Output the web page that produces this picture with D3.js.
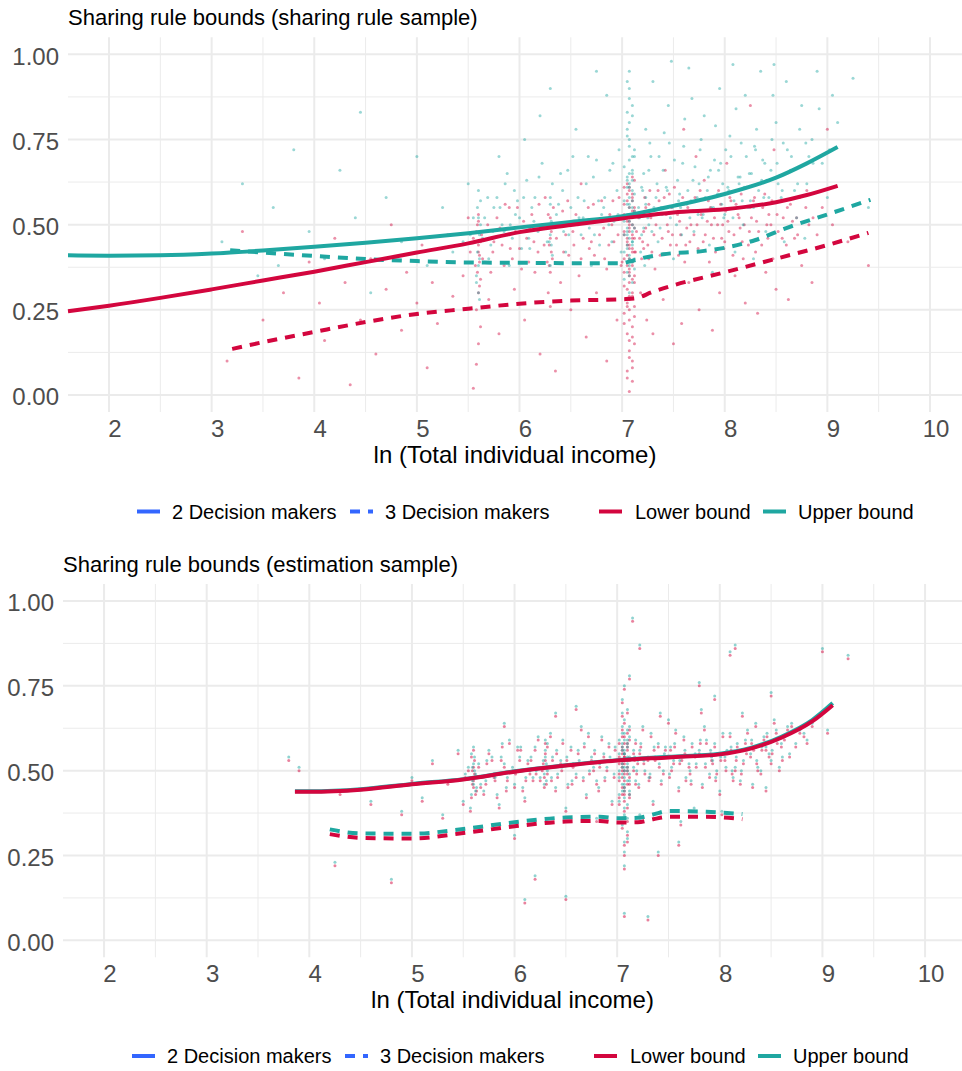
<!DOCTYPE html>
<html>
<head>
<meta charset="utf-8">
<script src="https://cdn.jsdelivr.net/npm/d3@7"></script>
<style>
body{margin:0;background:#fff;}
svg{display:block;font-family:"Liberation Sans",Arial,sans-serif;}
</style>
</head>
<body>
<svg width="962" height="1071"></svg>
<script>
// ---- data ----
const xTicks = [2, 3, 4, 5, 6, 7, 8, 9, 10];
const yTicks = [0, 0.25, 0.5, 0.75, 1];
const typeLabels = ["2 Decision makers", "3 Decision makers"];
const boundLabels = ["Lower bound", "Upper bound"];

// panel 1 (sharing rule sample) smooth fits [ln income, share]
const s1Lower2 = [[1.6,0.246],[2,0.262],[2.5,0.285],[3,0.31],[3.5,0.336],[4,0.362],[4.5,0.39],[5,0.418],[5.5,0.445],[6,0.478],[6.5,0.499],[7,0.518],[7.5,0.536],[8,0.545],[8.5,0.566],[8.8,0.587],[9.1,0.614]];
const s1Upper2 = [[1.6,0.410],[2,0.409],[2.5,0.410],[3,0.415],[3.5,0.424],[4,0.435],[4.5,0.447],[5,0.46],[5.5,0.475],[6,0.492],[6.5,0.508],[7,0.525],[7.5,0.555],[8,0.59],[8.5,0.638],[8.8,0.68],[9.1,0.728]];
const s1Lower3 = [[3.2,0.135],[3.5,0.155],[4,0.185],[4.5,0.214],[5,0.238],[5.5,0.253],[6,0.268],[6.5,0.277],[7,0.281],[7.12,0.283],[7.3,0.303],[7.5,0.322],[8,0.36],[8.5,0.4],[9,0.44],[9.4,0.476]];
const s1Upper3 = [[3.18,0.425],[3.5,0.418],[4,0.408],[4.5,0.399],[5,0.393],[5.5,0.389],[6,0.388],[6.5,0.387],[7,0.387],[7.05,0.39],[7.2,0.402],[7.4,0.413],[7.8,0.423],[8,0.432],[8.3,0.455],[8.6,0.49],[9,0.53],[9.42,0.573]];

// panel 2 (estimation sample) smooth fits
const s2Lower2 = [[3.86,0.438],[4,0.438],[4.5,0.444],[5,0.46],[5.5,0.474],[6,0.497],[6.5,0.515],[7,0.53],[7.5,0.539],[8,0.548],[8.3,0.565],[8.6,0.597],[8.9,0.645],[9.1,0.693]];
const s2Upper2 = [[3.86,0.439],[4,0.439],[4.5,0.445],[5,0.461],[5.5,0.475],[6,0.498],[6.5,0.516],[7,0.531],[7.5,0.541],[8,0.55],[8.3,0.567],[8.6,0.6],[8.9,0.649],[9.1,0.699]];
const s2Lower3 = [[4.2,0.313],[4.5,0.302],[5,0.30],[5.5,0.316],[6,0.336],[6.5,0.35],[6.83,0.352],[7,0.347],[7.2,0.348],[7.35,0.357],[7.5,0.364],[7.87,0.364],[8.22,0.357]];
const s2Upper3 = [[4.2,0.327],[4.5,0.315],[5,0.314],[5.5,0.328],[6,0.348],[6.5,0.362],[6.83,0.364],[7,0.36],[7.2,0.361],[7.35,0.371],[7.5,0.381],[7.87,0.379],[8.22,0.372]];

// panel 1 scatter: lower bound points
const s1LowerPts = [[3.15,0.10],[3.3,0.48],[3.5,0.22],[3.7,0.30],[3.85,0.05],[3.95,0.39],[4.05,0.27],[4.1,0.16],[4.2,0.46],[4.3,0.33],[4.35,0.03],[4.45,0.22],[4.55,0.40],[4.6,0.12],[4.7,0.31],[4.75,0.50],[4.85,0.19],[4.9,0.36],[5.0,0.27],[5.05,0.44],[5.1,0.08],[5.15,0.33],[5.2,0.21],[5.3,0.47],[5.35,0.29],
[5.58,0.25],[5.6,0.30],[5.62,0.34],[5.57,0.38],[5.61,0.41],[5.6,0.44],[5.63,0.47],[5.59,0.50],[5.6,0.53],[5.62,0.20],[5.6,0.15],[5.58,0.09],
[6.28,0.30],[6.3,0.36],[6.32,0.40],[6.29,0.44],[6.31,0.48],[6.3,0.52],[6.33,0.55],[6.3,0.26],
[5.45,0.35],[5.5,0.52],[5.7,0.28],[5.75,0.45],[5.8,0.18],[5.85,0.38],[5.9,0.55],[5.95,0.31],[6.0,0.43],[6.05,0.22],[6.1,0.49],[6.15,0.36],[6.2,0.12],[6.25,0.58],[6.4,0.33],[6.45,0.47],[6.5,0.25],[6.55,0.53],[6.6,0.40],[6.65,0.17],[6.7,0.45],[6.75,0.30],[6.8,0.57],[6.85,0.37],[6.9,0.50],[6.95,0.22],[6.6,0.62],[6.35,0.07],[5.55,0.02],[6.85,0.10],
[7.07,0.01],[7.10,0.04],[7.05,0.07],[7.10,0.10],[7.07,0.13],[7.12,0.15],[7.05,0.18],[7.10,0.20],[7.07,0.22],[7.02,0.24],[7.12,0.26],[7.07,0.28],[7.10,0.30],[7.05,0.31],[7.07,0.33],[7.12,0.35],[7.02,0.36],[7.10,0.38],[7.07,0.40],[7.05,0.41],[7.10,0.43],[7.07,0.44],[7.12,0.46],[7.02,0.47],[7.07,0.49],[7.10,0.50],[7.05,0.52],[7.07,0.53],[7.12,0.55],[7.02,0.56],[7.10,0.58],[7.07,0.60],[7.05,0.62],[7.10,0.64],[7.07,0.29],[7.10,0.34],[7.05,0.45],[7.07,0.51],[7.10,0.57],[7.13,0.42],[7.00,0.39],[7.14,0.48],
[7.18,0.30],[7.2,0.45],[7.24,0.22],[7.28,0.52],[7.32,0.37],[7.35,0.60],[7.4,0.28],[7.45,0.48],[7.5,0.15],[7.55,0.41],[7.6,0.56],[7.65,0.33],[7.7,0.47],[7.75,0.25],[7.8,0.63],[7.85,0.39],[7.9,0.52],[7.95,0.30],[8.0,0.45],[8.05,0.58],[8.1,0.35],[8.15,0.49],[8.2,0.27],[8.25,0.55],[8.3,0.42],[8.35,0.62],[8.4,0.36],[8.45,0.50],[8.5,0.31],[8.55,0.57],[8.6,0.44],[8.7,0.52],[8.75,0.38],[8.8,0.60],[8.9,0.47],[8.95,0.55],[9.05,0.50],[7.22,0.58],[7.3,0.18],[7.42,0.66],[7.58,0.21],[7.72,0.70],[7.88,0.19],[8.02,0.68],[8.18,0.40],[8.32,0.24],[8.48,0.72],[8.62,0.28],[8.85,0.33],[7.26,0.40],[7.48,0.55],[7.62,0.44],[7.98,0.50],[8.12,0.60],[8.42,0.46],[9.2,0.45],[9.4,0.38],[8.25,0.85],[7.6,0.78],[9.0,0.78]];
const s1LowerCore = [[5.52,0.42],[5.66,0.48],[5.72,0.36],[5.78,0.52],[5.83,0.44],[5.88,0.47],[5.93,0.40],[5.98,0.55],[6.02,0.37],[6.07,0.46],[6.12,0.53],[6.18,0.42],[6.22,0.50],[6.27,0.39],[6.36,0.46],[6.42,0.54],[6.48,0.41],[6.52,0.48],[6.58,0.35],[6.63,0.51],[6.68,0.43],[6.72,0.56],[6.78,0.47],[6.83,0.40],[6.88,0.53],[6.92,0.45],[6.97,0.58],[6.99,0.38],
[7.16,0.52],[7.19,0.40],[7.21,0.48],[7.23,0.55],[7.25,0.44],[7.27,0.60],[7.31,0.47],[7.34,0.53],[7.37,0.41],[7.41,0.58],[7.44,0.50],[7.47,0.44],[7.51,0.61],[7.54,0.53],[7.57,0.47],[7.61,0.39],[7.64,0.55],[7.67,0.50],[7.71,0.58],[7.74,0.43],[7.77,0.53],[7.81,0.47],[7.84,0.57],[7.87,0.50],[7.91,0.42],[7.94,0.60],[7.97,0.46],[8.01,0.54],[8.04,0.48],[8.08,0.41],[8.11,0.56],[8.14,0.52],[8.17,0.45],[8.21,0.61],[8.24,0.48],[8.28,0.57],[8.31,0.51],[8.36,0.44],[8.39,0.59],[8.43,0.53],[8.47,0.40],[8.52,0.48],[8.57,0.52],[8.64,0.56],[8.68,0.46],[8.73,0.58],[8.82,0.50],
[7.07,0.37],[7.10,0.42],[7.05,0.46],[7.07,0.48],[7.10,0.54],[7.05,0.59],[7.07,0.61],[7.10,0.47],[7.07,0.16],[7.10,0.08],[7.05,0.26],[7.07,0.35]];
const s1LowerDense = [[7.02,0.21],[7.12,0.23],[7.07,0.25],[7.05,0.27],[7.10,0.29],[7.02,0.32],[7.12,0.33],[7.07,0.36],[7.05,0.38],[7.10,0.39],[7.02,0.40],[7.12,0.42],[7.07,0.43],[7.05,0.44],[7.10,0.46],[7.02,0.48],[7.12,0.49],[7.07,0.50],[7.05,0.51],[7.10,0.52],[7.02,0.53],[7.12,0.54],[7.07,0.55],[7.05,0.57],[7.10,0.59],[7.02,0.61],[7.12,0.63],[7.07,0.11],[7.05,0.05],[7.10,0.17],
[5.59,0.36],[5.61,0.39],[5.6,0.42],[5.62,0.45],[5.58,0.48],[5.6,0.51],[5.61,0.32],
[6.29,0.38],[6.31,0.42],[6.3,0.46],[6.32,0.50],[6.28,0.53],
[5.55,0.46],[5.64,0.40],[5.69,0.50],[5.74,0.42],[5.81,0.49],[5.86,0.56],[5.91,0.43],[5.96,0.48],[6.04,0.51],[6.09,0.39],[6.14,0.45],[6.19,0.56],[6.24,0.44],[6.38,0.50],[6.43,0.42],[6.47,0.57],[6.53,0.44],[6.57,0.50],[6.62,0.46],[6.67,0.55],[6.73,0.41],[6.77,0.51],[6.82,0.49],[6.87,0.44],[6.91,0.57],[6.96,0.47],
[7.17,0.46],[7.19,0.53],[7.21,0.43],[7.23,0.49],[7.26,0.56],[7.29,0.42],[7.33,0.50],[7.36,0.57],[7.39,0.46],[7.43,0.53],[7.46,0.59],[7.49,0.47],[7.53,0.44],[7.56,0.51],[7.59,0.58],[7.63,0.49],[7.66,0.45],[7.69,0.54],[7.73,0.50],[7.76,0.60],[7.79,0.45],[7.83,0.51],[7.86,0.55],[7.89,0.46],[7.93,0.50],[7.96,0.56],[7.99,0.43],[8.03,0.51],[8.06,0.57],[8.09,0.47],[8.13,0.53],[8.16,0.59],[8.19,0.50],[8.23,0.44],[8.26,0.52],[8.29,0.58],[8.33,0.48],[8.37,0.55],[8.41,0.50],[8.46,0.57],[8.51,0.53],[8.56,0.46],[8.61,0.55],[8.66,0.51],[8.71,0.47],[8.79,0.55],[8.86,0.52]];

// panel 1 scatter: upper bound points
const s1UpperPts = [[3.1,0.45],[3.3,0.62],[3.45,0.35],[3.6,0.55],[3.8,0.72],[3.95,0.48],[4.1,0.40],[4.25,0.66],[4.4,0.52],[4.55,0.30],[4.7,0.58],[4.85,0.45],[5.0,0.70],[5.1,0.38],[5.25,0.55],[5.35,0.42],[4.45,0.83],[3.65,0.38],
[5.6,0.30],[5.58,0.35],[5.61,0.40],[5.6,0.45],[5.62,0.50],[5.59,0.55],[5.6,0.60],[5.61,0.28],[5.6,0.38],
[6.3,0.38],[6.31,0.44],[6.29,0.50],[6.3,0.56],[6.32,0.62],[6.3,0.47],
[5.45,0.45],[5.5,0.62],[5.7,0.40],[5.75,0.55],[5.8,0.70],[5.85,0.48],[5.9,0.38],[5.95,0.60],[6.0,0.52],[6.05,0.75],[6.1,0.43],[6.15,0.58],[6.2,0.82],[6.25,0.50],[6.4,0.65],[6.45,0.42],[6.5,0.55],[6.55,0.78],[6.6,0.47],[6.65,0.62],[6.7,0.38],[6.75,0.69],[6.8,0.53],[6.85,0.88],[6.9,0.45],[6.95,0.60],[6.3,0.90],[6.75,0.95],
[7.07,0.30],[7.10,0.33],[7.05,0.36],[7.07,0.38],[7.12,0.40],[7.02,0.42],[7.10,0.44],[7.07,0.46],[7.05,0.48],[7.10,0.50],[7.07,0.52],[7.12,0.54],[7.05,0.56],[7.07,0.58],[7.10,0.60],[7.07,0.62],[7.05,0.64],[7.10,0.66],[7.07,0.69],[7.12,0.72],[7.05,0.76],[7.07,0.80],[7.10,0.85],[7.07,0.90],[7.07,0.95],[7.10,0.39],[7.05,0.47],[7.07,0.55],[7.10,0.63],[7.02,0.51],
[7.18,0.42],[7.2,0.60],[7.23,0.78],[7.26,0.50],[7.3,0.92],[7.35,0.45],[7.4,0.66],[7.45,0.85],[7.5,0.40],[7.55,0.57],[7.6,0.73],[7.65,0.96],[7.7,0.48],[7.75,0.62],[7.8,0.82],[7.85,0.44],[7.9,0.69],[7.95,0.90],[8.0,0.53],[8.05,0.76],[8.1,0.42],[8.15,0.64],[8.2,0.88],[8.25,0.57],[8.3,0.72],[8.35,0.95],[8.4,0.48],[8.45,0.66],[8.5,0.80],[8.55,0.58],[8.6,0.92],[8.65,0.70],[8.7,0.52],[8.75,0.85],[8.8,0.62],[8.85,0.75],[8.9,0.95],[8.95,0.68],[9.0,0.58],[9.05,0.88],[9.1,0.80],[9.25,0.93],[9.4,0.55],[7.22,0.38],[7.38,0.55],[7.58,0.47],[7.78,0.52],[7.98,0.62],[8.18,0.50],[8.38,0.58],[8.58,0.45],[7.28,0.70],[7.68,0.87],[8.08,0.97],[8.48,0.97],[7.88,0.36],[8.28,0.40],[7.48,0.98],[8.78,0.46]];
const s1UpperCore = [[5.52,0.47],[5.66,0.52],[5.72,0.44],[5.78,0.58],[5.83,0.50],[5.88,0.65],[5.93,0.46],[5.98,0.57],[6.02,0.43],[6.07,0.63],[6.12,0.55],[6.18,0.48],[6.22,0.68],[6.27,0.45],[6.36,0.53],[6.42,0.60],[6.48,0.47],[6.52,0.70],[6.58,0.52],[6.63,0.57],[6.68,0.49],[6.72,0.64],[6.78,0.44],[6.83,0.58],[6.88,0.66],[6.92,0.51],[6.97,0.72],[6.99,0.42],
[7.16,0.55],[7.19,0.47],[7.21,0.65],[7.23,0.58],[7.25,0.52],[7.27,0.74],[7.31,0.55],[7.34,0.62],[7.37,0.49],[7.41,0.77],[7.44,0.60],[7.47,0.52],[7.51,0.69],[7.54,0.63],[7.57,0.55],[7.61,0.81],[7.64,0.60],[7.67,0.57],[7.71,0.67],[7.74,0.53],[7.77,0.75],[7.81,0.58],[7.84,0.64],[7.87,0.55],[7.91,0.79],[7.94,0.66],[7.97,0.56],[8.01,0.72],[8.04,0.60],[8.08,0.52],[8.11,0.84],[8.14,0.62],[8.17,0.57],[8.21,0.70],[8.24,0.65],[8.28,0.55],[8.31,0.78],[8.36,0.63],[8.39,0.68],[8.43,0.58],[8.47,0.88],[8.52,0.62],[8.57,0.74],[8.64,0.66],[8.68,0.60],[8.73,0.78],[8.82,0.70],[8.92,0.84],[9.02,0.72],
[7.07,0.41],[7.10,0.45],[7.05,0.49],[7.07,0.53],[7.10,0.57],[7.05,0.61],[7.07,0.65],[7.10,0.70],[7.07,0.75],[7.05,0.83],[7.07,0.35]];
const s1UpperDense = [[7.02,0.34],[7.12,0.37],[7.07,0.40],[7.05,0.43],[7.10,0.45],[7.02,0.47],[7.12,0.49],[7.07,0.51],[7.05,0.53],[7.10,0.55],[7.02,0.57],[7.12,0.59],[7.07,0.61],[7.05,0.63],[7.10,0.65],[7.02,0.67],[7.12,0.70],[7.07,0.73],[7.05,0.78],[7.10,0.82],[7.07,0.87],[7.05,0.92],[7.10,0.48],[7.07,0.56],[7.05,0.44],
[5.59,0.42],[5.61,0.47],[5.6,0.52],[5.62,0.57],[5.58,0.33],
[6.29,0.45],[6.31,0.51],[6.3,0.58],[6.32,0.41],
[5.55,0.52],[5.64,0.46],[5.69,0.58],[5.74,0.48],[5.81,0.55],[5.86,0.62],[5.91,0.50],[5.96,0.53],[6.04,0.58],[6.09,0.46],[6.14,0.51],[6.19,0.64],[6.24,0.49],[6.38,0.56],[6.43,0.48],[6.47,0.66],[6.53,0.50],[6.57,0.58],[6.62,0.52],[6.67,0.70],[6.73,0.47],[6.77,0.57],[6.82,0.55],[6.87,0.50],[6.91,0.68],[6.96,0.53],
[7.17,0.52],[7.19,0.61],[7.21,0.49],[7.23,0.56],[7.26,0.66],[7.29,0.48],[7.33,0.58],[7.36,0.70],[7.39,0.53],[7.43,0.61],[7.46,0.74],[7.49,0.55],[7.53,0.50],[7.56,0.59],[7.59,0.68],[7.63,0.56],[7.66,0.52],[7.69,0.63],[7.73,0.58],[7.76,0.72],[7.79,0.53],[7.83,0.60],[7.86,0.66],[7.89,0.55],[7.93,0.59],[7.96,0.68],[7.99,0.52],[8.03,0.61],[8.06,0.70],[8.09,0.57],[8.13,0.64],[8.16,0.74],[8.19,0.61],[8.23,0.55],[8.26,0.65],[8.29,0.73],[8.33,0.60],[8.37,0.69],[8.41,0.63],[8.46,0.75],[8.51,0.68],[8.56,0.60],[8.61,0.72],[8.66,0.66],[8.71,0.62],[8.79,0.74],[8.86,0.68]];

// panel 2 scatter: [ln income, lower bound, upper bound]
const s2Pts = [[3.8,0.53,0.54],[3.9,0.50,0.51],[4.25,0.22,0.23],[4.3,0.43,0.44],[4.6,0.40,0.41],[4.8,0.17,0.18],[4.9,0.37,0.38],[5.0,0.47,0.48],[5.1,0.41,0.42],[5.2,0.52,0.53],[5.3,0.36,0.37],[5.35,0.46,0.47],[5.45,0.55,0.56],[5.5,0.40,0.41],
[5.58,0.42,0.43],[5.6,0.45,0.46],[5.62,0.48,0.49],[5.59,0.50,0.51],[5.61,0.53,0.54],[5.6,0.47,0.48],[5.63,0.44,0.45],[5.57,0.38,0.39],[5.6,0.56,0.57],
[5.7,0.43,0.44],[5.75,0.55,0.56],[5.8,0.48,0.49],[5.85,0.39,0.40],[5.9,0.51,0.52],[5.95,0.58,0.59],[6.0,0.45,0.46],[6.05,0.53,0.54],[6.1,0.41,0.42],[6.15,0.49,0.50],[6.2,0.56,0.57],[6.25,0.47,0.48],[6.28,0.52,0.53],[6.3,0.55,0.56],[6.32,0.49,0.50],[6.3,0.58,0.59],[6.29,0.45,0.46],[6.35,0.60,0.61],[6.4,0.44,0.45],[6.45,0.52,0.53],[6.5,0.38,0.39],[6.55,0.56,0.57],[6.6,0.48,0.49],[6.65,0.62,0.63],[6.7,0.42,0.43],[6.75,0.53,0.54],[6.8,0.46,0.47],[6.85,0.59,0.60],[6.9,0.50,0.51],[6.95,0.40,0.41],[6.5,0.12,0.13],[6.2,0.18,0.19],[6.6,0.68,0.69],[6.8,0.35,0.36],[6.0,0.30,0.31],[6.4,0.66,0.67],[5.9,0.63,0.64],
[7.07,0.25,0.26],[7.10,0.29,0.30],[7.05,0.33,0.34],[7.07,0.36,0.37],[7.10,0.39,0.40],[7.02,0.42,0.43],[7.07,0.44,0.45],[7.12,0.46,0.47],[7.05,0.48,0.49],[7.10,0.50,0.51],[7.07,0.52,0.53],[7.02,0.54,0.55],[7.10,0.56,0.57],[7.07,0.58,0.59],[7.05,0.60,0.61],[7.12,0.62,0.63],[7.07,0.64,0.65],[7.10,0.67,0.68],[7.05,0.70,0.71],[7.07,0.74,0.75],[7.07,0.47,0.48],[7.10,0.53,0.54],[7.05,0.57,0.58],[7.07,0.41,0.42],[7.10,0.31,0.32],[7.05,0.51,0.52],[7.07,0.55,0.56],[7.12,0.43,0.44],[7.02,0.49,0.50],[7.07,0.21,0.22],[7.07,0.07,0.08],
[7.16,0.50,0.51],[7.18,0.58,0.59],[7.21,0.45,0.46],[7.25,0.62,0.63],[7.3,0.53,0.54],[7.35,0.40,0.41],[7.4,0.57,0.58],[7.45,0.49,0.50],[7.5,0.64,0.65],[7.55,0.52,0.53],[7.6,0.44,0.45],[7.65,0.59,0.60],[7.7,0.51,0.52],[7.75,0.38,0.39],[7.8,0.55,0.56],[7.85,0.62,0.63],[7.9,0.48,0.49],[7.95,0.57,0.58],[8.0,0.43,0.44],[8.05,0.53,0.54],[8.1,0.60,0.61],[8.15,0.50,0.51],[8.2,0.46,0.47],[8.25,0.58,0.59],[8.3,0.54,0.55],[8.35,0.63,0.64],[8.4,0.49,0.50],[8.45,0.56,0.57],[8.5,0.52,0.53],[8.55,0.61,0.62],[8.6,0.57,0.58],[8.7,0.63,0.64],[8.45,0.44,0.45],[7.22,0.36,0.37],[7.42,0.66,0.67],[7.62,0.34,0.35],[7.82,0.67,0.68],[8.02,0.37,0.38],[8.22,0.66,0.67],[7.32,0.48,0.49],[7.52,0.56,0.57],[7.72,0.46,0.47],[7.92,0.53,0.54],[8.12,0.49,0.50],[8.32,0.45,0.46],[7.15,0.94,0.95],[7.22,0.86,0.87],[7.12,0.77,0.78],[7.8,0.75,0.76],[8.1,0.84,0.85],[8.15,0.86,0.87],[9.0,0.85,0.86],[9.25,0.83,0.84],[9.05,0.61,0.62],[7.95,0.71,0.72],[7.4,0.25,0.26],[7.6,0.28,0.29],[7.3,0.06,0.07],[6.1,0.11,0.12],[8.5,0.72,0.73]];
const s2Core = [[5.52,0.48,0.49],[5.65,0.51,0.52],[5.72,0.46,0.47],[5.78,0.53,0.54],[5.83,0.42,0.43],[5.88,0.57,0.58],[5.93,0.47,0.48],[5.98,0.50,0.51],[6.03,0.56,0.57],[6.08,0.44,0.45],[6.13,0.52,0.53],[6.18,0.47,0.48],[6.23,0.59,0.60],[6.27,0.50,0.51],[6.31,0.46,0.47],[6.37,0.53,0.54],[6.42,0.48,0.49],[6.47,0.58,0.59],[6.52,0.45,0.46],[6.57,0.51,0.52],[6.62,0.55,0.56],[6.67,0.47,0.48],[6.72,0.60,0.61],[6.77,0.50,0.51],[6.82,0.44,0.45],[6.87,0.54,0.55],[6.92,0.57,0.58],[6.97,0.48,0.49],
[7.16,0.55,0.56],[7.18,0.46,0.47],[7.2,0.52,0.53],[7.23,0.57,0.58],[7.27,0.49,0.50],[7.33,0.60,0.61],[7.37,0.53,0.54],[7.43,0.46,0.47],[7.47,0.56,0.57],[7.53,0.50,0.51],[7.57,0.61,0.62],[7.63,0.53,0.54],[7.67,0.47,0.48],[7.73,0.57,0.58],[7.77,0.51,0.52],[7.83,0.45,0.46],[7.87,0.58,0.59],[7.93,0.52,0.53],[7.97,0.49,0.50],[8.03,0.60,0.61],[8.07,0.55,0.56],[8.13,0.47,0.48],[8.17,0.57,0.58],[8.23,0.52,0.53],[8.27,0.61,0.62],[8.33,0.56,0.57],[8.37,0.50,0.51],[8.43,0.59,0.60],[8.48,0.54,0.55],[8.53,0.64,0.65],[8.58,0.50,0.51],[8.63,0.59,0.60],[8.68,0.54,0.55],[8.78,0.61,0.62],[8.85,0.58,0.59],
[7.07,0.45,0.46],[7.10,0.49,0.50],[7.05,0.52,0.53],[7.07,0.54,0.55],[7.10,0.58,0.59],[7.05,0.43,0.44],[7.07,0.50,0.51],[7.10,0.61,0.62],[7.07,0.38,0.39],[7.05,0.56,0.57]];
const s2Dense = [[7.02,0.40,0.41],[7.12,0.42,0.43],[7.07,0.43,0.44],[7.05,0.45,0.46],[7.10,0.46,0.47],[7.02,0.47,0.48],[7.12,0.48,0.49],[7.07,0.49,0.50],[7.05,0.50,0.51],[7.10,0.51,0.52],[7.02,0.52,0.53],[7.12,0.53,0.54],[7.07,0.54,0.55],[7.05,0.55,0.56],[7.10,0.57,0.58],[7.02,0.58,0.59],[7.12,0.59,0.60],[7.07,0.60,0.61],[7.05,0.62,0.63],[7.10,0.35,0.36],[7.07,0.28,0.29],[7.05,0.66,0.67],
[5.59,0.46,0.47],[5.61,0.49,0.50],[5.6,0.51,0.52],[5.62,0.43,0.44],[5.58,0.54,0.55],
[6.29,0.48,0.49],[6.31,0.51,0.52],[6.3,0.53,0.54],[6.32,0.57,0.58],
[5.55,0.50,0.51],[5.67,0.45,0.46],[5.73,0.52,0.53],[5.81,0.47,0.48],[5.87,0.53,0.54],[5.92,0.44,0.45],[6.01,0.49,0.50],[6.06,0.56,0.57],[6.11,0.47,0.48],[6.16,0.53,0.54],[6.21,0.49,0.50],[6.36,0.47,0.48],[6.41,0.55,0.56],[6.46,0.50,0.51],[6.51,0.53,0.54],[6.56,0.46,0.47],[6.63,0.52,0.53],[6.68,0.57,0.58],[6.73,0.49,0.50],[6.78,0.55,0.56],[6.83,0.51,0.52],[6.88,0.47,0.48],[6.93,0.53,0.54],[6.98,0.56,0.57],
[7.17,0.53,0.54],[7.19,0.49,0.50],[7.22,0.55,0.56],[7.26,0.52,0.53],[7.31,0.47,0.48],[7.36,0.56,0.57],[7.41,0.51,0.52],[7.46,0.54,0.55],[7.51,0.48,0.49],[7.56,0.57,0.58],[7.61,0.52,0.53],[7.66,0.55,0.56],[7.71,0.49,0.50],[7.76,0.54,0.55],[7.81,0.58,0.59],[7.86,0.51,0.52],[7.91,0.55,0.56],[7.96,0.47,0.48],[8.01,0.53,0.54],[8.06,0.50,0.51],[8.11,0.56,0.57],[8.16,0.53,0.54],[8.21,0.49,0.50],[8.26,0.55,0.56],[8.31,0.58,0.59],[8.36,0.52,0.53],[8.41,0.56,0.57],[8.46,0.60,0.61],[8.51,0.55,0.56],[8.56,0.58,0.59],[8.61,0.53,0.54],[8.66,0.62,0.63],[8.74,0.57,0.58],[8.82,0.60,0.61],[8.9,0.63,0.64]];

// ---- styling ----
const red = "#d3063e", teal = "#1fa7a1", blue = "#3366ff";
const gridCol = "#ebebeb";
const dash = "10,8";

const s2All = s2Pts.concat(s2Core, s2Dense);
const panels = [
  {title: "Sharing rule bounds (sharing rule sample)", titleX: 68, titleY: 25,
   left: 68, right: 962, top: 37.3, bottom: 412, xMax: 10.312,
   lower2: s1Lower2, upper2: s1Upper2, lower3: s1Lower3, upper3: s1Upper3,
   ptsLower: s1LowerPts.concat(s1LowerCore, s1LowerDense),
   ptsUpper: s1UpperPts.concat(s1UpperCore, s1UpperDense), ptOpacity: 0.45,
   legendY: 511.5, legendDx: 0},
  {title: "Sharing rule bounds (estimation sample)", titleX: 63, titleY: 572,
   left: 63, right: 962, top: 584, bottom: 957.3, xMax: 10.36,
   lower2: s2Lower2, upper2: s2Upper2, lower3: s2Lower3, upper3: s2Upper3,
   ptsLower: s2All.map(d => [d[0], d[1]]), ptsUpper: s2All.map(d => [d[0], d[2]]), ptOpacity: 0.5,
   legendY: 1056, legendDx: -5}
];

const svg = d3.select("svg");

panels.forEach(p => {
  const g = svg.append("g");
  const x = d3.scaleLinear().domain([1.6, p.xMax]).range([p.left, p.right]);
  const y = d3.scaleLinear().domain([-0.05, 1.05]).range([p.bottom, p.top]);

  // title
  g.append("text")
    .attr("x", p.titleX).attr("y", p.titleY)
    .attr("font-size", "22px").attr("fill", "#000")
    .text(p.title);

  // minor grid
  const xMinor = xTicks.slice(0, -1).map(v => v + 0.5);
  const yMinor = yTicks.slice(0, -1).map(v => v + 0.125);
  g.selectAll(".vminor").data(xMinor).enter().append("line")
    .attr("x1", d => x(d)).attr("x2", d => x(d))
    .attr("y1", p.top).attr("y2", p.bottom)
    .attr("stroke", gridCol).attr("stroke-width", 1);
  g.selectAll(".hminor").data(yMinor).enter().append("line")
    .attr("y1", d => y(d)).attr("y2", d => y(d))
    .attr("x1", p.left).attr("x2", p.right)
    .attr("stroke", gridCol).attr("stroke-width", 1);
  // major grid
  g.selectAll(".vmajor").data(xTicks).enter().append("line")
    .attr("x1", d => x(d)).attr("x2", d => x(d))
    .attr("y1", p.top).attr("y2", p.bottom)
    .attr("stroke", gridCol).attr("stroke-width", 2);
  g.selectAll(".hmajor").data(yTicks).enter().append("line")
    .attr("y1", d => y(d)).attr("y2", d => y(d))
    .attr("x1", p.left).attr("x2", p.right)
    .attr("stroke", gridCol).attr("stroke-width", 2);

  // tick labels
  g.selectAll(".xlab").data(xTicks).enter().append("text")
    .attr("x", d => x(d) + 6).attr("y", p.bottom + 25)
    .attr("text-anchor", "middle").attr("font-size", "24px").attr("fill", "#4d4d4d")
    .text(d => d);
  g.selectAll(".ylab").data(yTicks).enter().append("text")
    .attr("x", p.left - 9).attr("y", d => y(d) + 10.5)
    .attr("text-anchor", "end").attr("font-size", "24px").attr("fill", "#4d4d4d")
    .text(d => d3.format(".2f")(d));

  // x label
  g.append("text")
    .attr("x", (p.left + p.right) / 2).attr("y", p.bottom + 51)
    .attr("text-anchor", "middle").attr("font-size", "24px").attr("fill", "#000")
    .text("ln (Total individual income)");

  // scatter
  g.append("g").selectAll("circle").data(p.ptsLower).enter().append("circle")
    .attr("cx", d => x(d[0])).attr("cy", d => y(d[1])).attr("r", 1.5)
    .attr("fill", red).attr("fill-opacity", p.ptOpacity);
  g.append("g").selectAll("circle").data(p.ptsUpper).enter().append("circle")
    .attr("cx", d => x(d[0])).attr("cy", d => y(d[1])).attr("r", 1.5)
    .attr("fill", teal).attr("fill-opacity", p.ptOpacity);

  // smooth lines
  const line = d3.line().x(d => x(d[0])).y(d => y(d[1])).curve(d3.curveMonotoneX);
  const series = [
    {d: p.upper3, c: teal, dash: dash},
    {d: p.lower3, c: red, dash: dash},
    {d: p.upper2, c: teal, dash: null},
    {d: p.lower2, c: red, dash: null}
  ];
  series.forEach(s => {
    g.append("path").datum(s.d)
      .attr("d", line)
      .attr("fill", "none").attr("stroke", s.c).attr("stroke-width", 4)
      .attr("stroke-dasharray", s.dash)
      .attr("stroke-linejoin", "round");
  });

  // legend
  const lg = g.append("g").attr("transform", `translate(${p.legendDx}, ${p.legendY})`);
  const keys = [
    {x0: 137, tx: 172, c: blue, dash: null, label: typeLabels[0]},
    {x0: 350, tx: 385, c: blue, dash: dash, label: typeLabels[1]},
    {x0: 599, tx: 635, c: red, dash: null, label: boundLabels[0]},
    {x0: 763, tx: 798, c: teal, dash: null, label: boundLabels[1]}
  ];
  keys.forEach(k => {
    lg.append("line")
      .attr("x1", k.x0).attr("x2", k.x0 + 23).attr("y1", 0).attr("y2", 0)
      .attr("stroke", k.c).attr("stroke-width", 4)
      .attr("stroke-dasharray", k.dash);
    lg.append("text")
      .attr("x", k.tx).attr("y", 7)
      .attr("font-size", "20px").attr("fill", "#000")
      .text(k.label);
  });
});
</script>
</body>
</html>
